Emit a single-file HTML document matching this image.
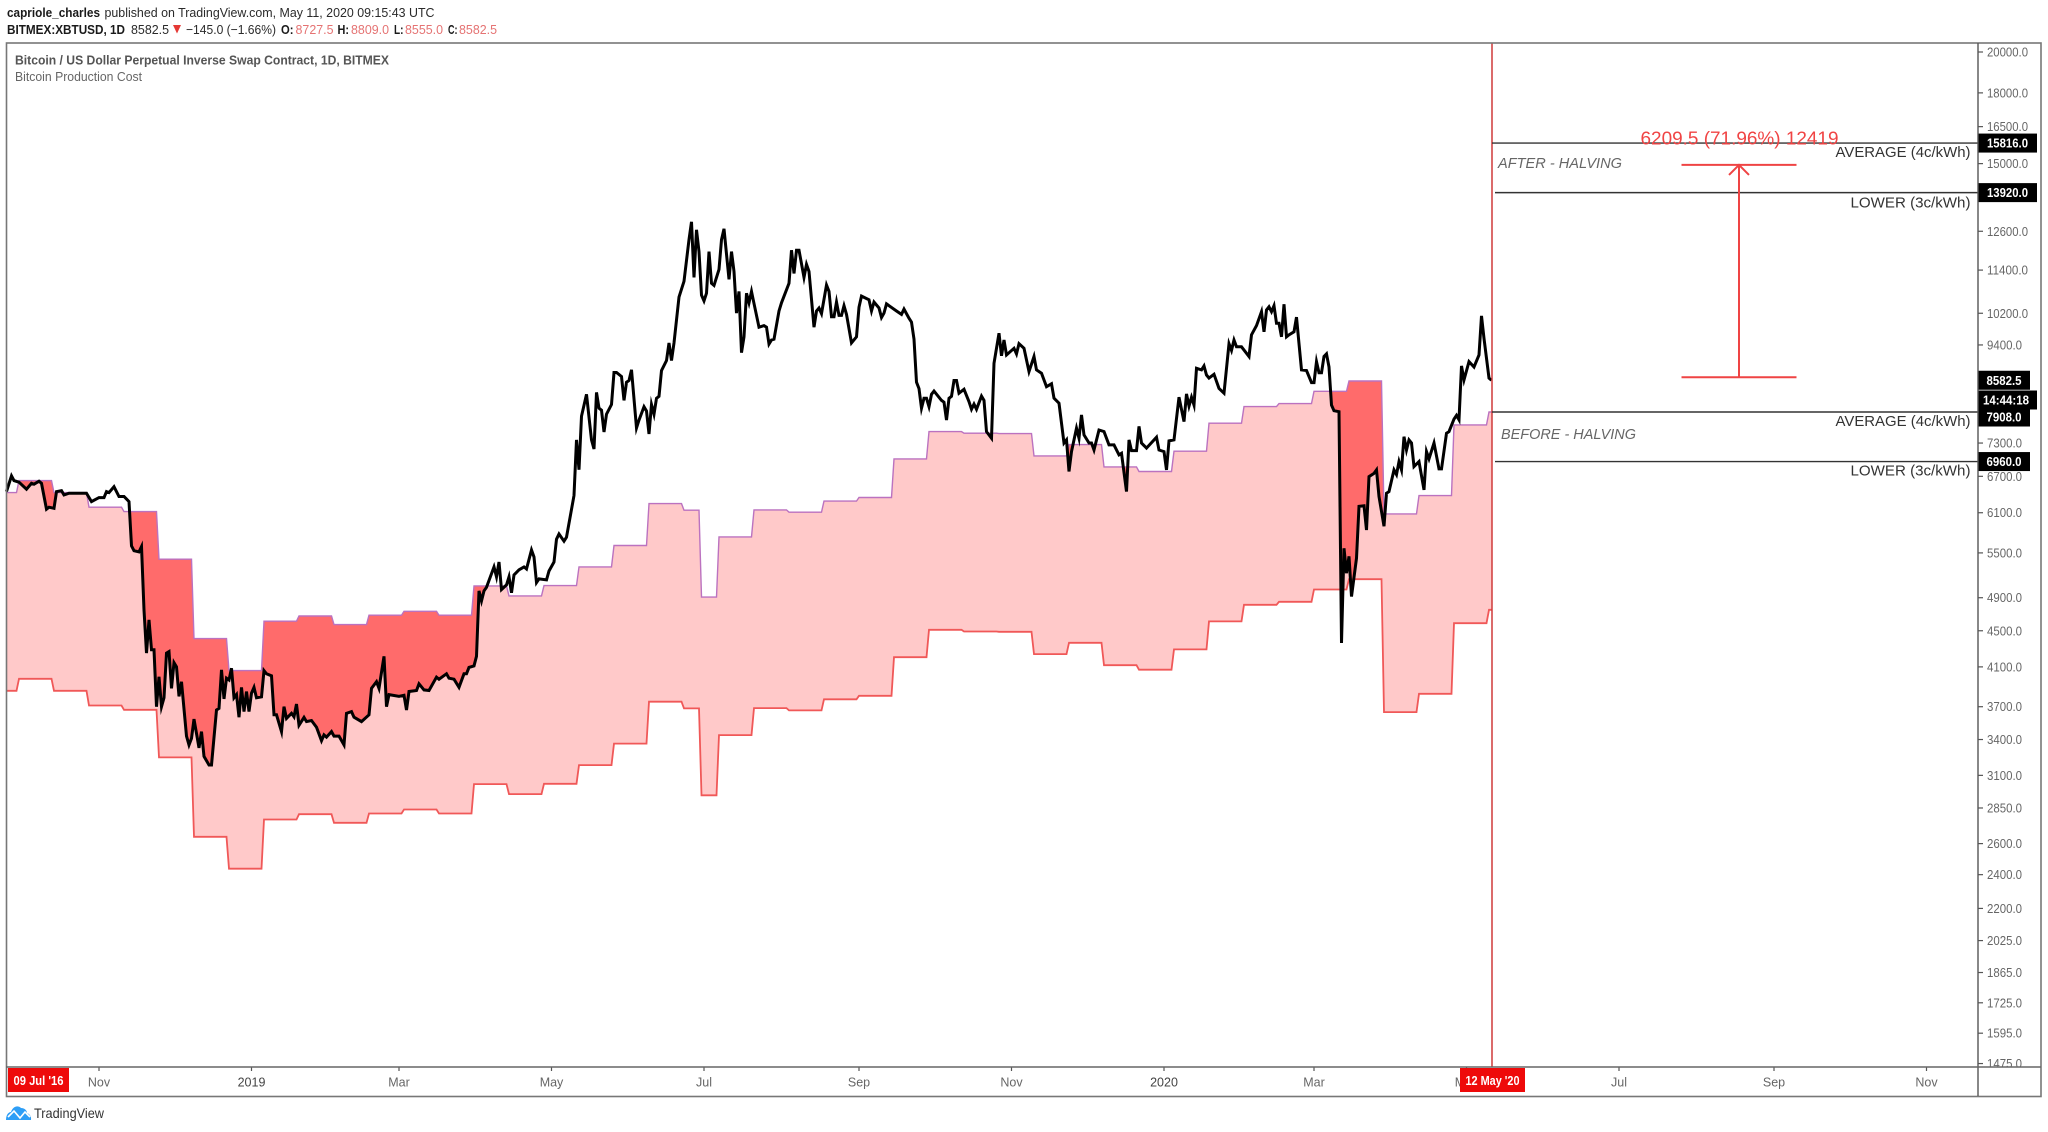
<!DOCTYPE html>
<html lang="en">
<head>
<meta charset="utf-8">
<title>Bitcoin Production Cost</title>
<style>
html,body{margin:0;padding:0;background:#fff;}
svg{display:block;font-family:"Liberation Sans",sans-serif;}
</style>
</head>
<body>
<svg id="chart" xmlns="http://www.w3.org/2000/svg" width="2048" height="1132" viewBox="0 0 2048 1132">
  <rect x="0" y="0" width="2048" height="1132" fill="#fff"/>

  <g>
    <text x="7" y="17" font-size="13" font-weight="700" fill="#1a1a1a" textLength="93" lengthAdjust="spacingAndGlyphs">capriole_charles</text>
    <text x="104.5" y="17" font-size="13" fill="#2a2a2a" textLength="330" lengthAdjust="spacingAndGlyphs">published on TradingView.com, May 11, 2020 09:15:43 UTC</text>
    <text x="7" y="34" font-size="13" font-weight="700" fill="#1a1a1a" textLength="118" lengthAdjust="spacingAndGlyphs">BITMEX:XBTUSD, 1D</text>
    <text x="131" y="34" font-size="13" fill="#2a2a2a" textLength="38" lengthAdjust="spacingAndGlyphs">8582.5</text>
    <polygon points="173,25 181,25 177,33.5" fill="#e53935"/>
    <text x="186" y="34" font-size="13" fill="#2a2a2a" textLength="90" lengthAdjust="spacingAndGlyphs">−145.0 (−1.66%)</text>
    <text x="281" y="34" font-size="13" font-weight="700" fill="#1a1a1a" textLength="12.5" lengthAdjust="spacingAndGlyphs">O:</text>
    <text x="295.5" y="34" font-size="13" fill="#e57373" textLength="38" lengthAdjust="spacingAndGlyphs">8727.5</text>
    <text x="337.5" y="34" font-size="13" font-weight="700" fill="#1a1a1a" textLength="11.5" lengthAdjust="spacingAndGlyphs">H:</text>
    <text x="351" y="34" font-size="13" fill="#e57373" textLength="38" lengthAdjust="spacingAndGlyphs">8809.0</text>
    <text x="394" y="34" font-size="13" font-weight="700" fill="#1a1a1a" textLength="9.5" lengthAdjust="spacingAndGlyphs">L:</text>
    <text x="405" y="34" font-size="13" fill="#e57373" textLength="38" lengthAdjust="spacingAndGlyphs">8555.0</text>
    <text x="448" y="34" font-size="13" font-weight="700" fill="#1a1a1a" textLength="9.5" lengthAdjust="spacingAndGlyphs">C:</text>
    <text x="459" y="34" font-size="13" fill="#e57373" textLength="38" lengthAdjust="spacingAndGlyphs">8582.5</text>
  </g>

  <g id="plot"></g>

  <rect x="7" y="1067" width="2034" height="30" fill="#fff"/>
  <g id="priceAxis"></g>
  <rect x="1979" y="1067" width="62" height="30" fill="#fff"/>
  <g id="timeAxis"></g>

  <rect x="6.5" y="43" width="2034.5" height="1053.5" fill="none" stroke="#777" stroke-width="1.6"/>
  <line x1="1978" y1="43" x2="1978" y2="1096" stroke="#555" stroke-width="1.4"/>
  <line x1="6" y1="1067" x2="2041" y2="1067" stroke="#666" stroke-width="1.4"/>

  <g id="dateBoxes">
    <rect x="8" y="1068" width="61" height="24" fill="#ee0a0a"/>
    <text x="38.5" y="1085" font-size="13" font-weight="700" fill="#fff" text-anchor="middle" textLength="50" lengthAdjust="spacingAndGlyphs">09 Jul '16</text>
    <rect x="1460" y="1068" width="65" height="24" fill="#ee0a0a"/>
    <text x="1492.5" y="1085" font-size="13" font-weight="700" fill="#fff" text-anchor="middle" textLength="54" lengthAdjust="spacingAndGlyphs">12 May '20</text>
  </g>

  <g>
    <text x="15" y="64.5" font-size="13" font-weight="700" fill="#555" textLength="374" lengthAdjust="spacingAndGlyphs">Bitcoin / US Dollar Perpetual Inverse Swap Contract, 1D, BITMEX</text>
    <text x="15" y="81" font-size="13" fill="#666" textLength="127" lengthAdjust="spacingAndGlyphs">Bitcoin Production Cost</text>
  </g>

  <g transform="translate(0,-4)">
    <path d="M6 1124 C6 1118 9 1116 11 1116 C13 1110 18 1109 21 1112 C25 1112 27 1115 27 1117 C30 1118 31.5 1121 31 1124 Z" fill="#2e9ef6"/>
    <path d="M8 1121 L14 1115 L20 1122 L25 1116 L30 1121" fill="none" stroke="#fff" stroke-width="1.6"/>
    <text x="34" y="1122" font-size="14" fill="#333" textLength="70" lengthAdjust="spacingAndGlyphs">TradingView</text>
  </g>

<script>
// Step-wise production cost (difficulty epochs): day offsets from 1 Nov 2018
const stepDays = [-37,-32,-18,-4,10,24,38,52,66,80,94,108,122,136,150,164,178,192,206,220,234,241,248,262,276,290,304,318,332,346,360,374,388,402,416,430,444,458,472,486,500,514,528,542,556];
const averageCost = [6425,6627,6425,6187,6118,5411,4410,4061,4612,4675,4572,4684,4732,4684,5052,4923,5055,5305,5606,6246,6140,4908,5732,6145,6108,6285,6344,7007,7518,7487,7480,7062,7270,6864,6783,7148,7683,8018,8081,8342,8567,6082,6375,7649,7908];
const lowerCost = [3855,3976,3855,3712,3671,3247,2646,2437,2767,2805,2743,2810,2839,2810,3031,2954,3033,3183,3364,3748,3684,2945,3439,3687,3665,3771,3806,4204,4511,4492,4488,4237,4362,4118,4070,4289,4610,4811,4849,5005,5140,3649,3825,4589,4750];

// BTC close line: day offsets and closes, same row layout in both arrays
const closeDays = [
-37,-35,-34,-32,-29,-27,-26,-24,-23,-21,
-20,-18,-17,-15,-14,-12,-8,-5,-3,0,
2,3,4,6,8,10,12,13,14,16,
17,18,19,20,21,22,23,24,25,26,
27,28,29,30,31,32,33,35,36,37,
38,40,41,42,44,45,47,48,49,50,
51,52,53,54,55,56,57,58,59,60,
61,62,63,65,66,67,69,70,71,73,
74,75,77,78,79,80,82,83,85,87,
89,90,91,93,94,96,98,99,101,102,
105,108,109,111,112,114,115,116,120,122,
123,124,127,128,130,132,135,136,139,140,
142,144,146,147,148,150,151,
152,153,154,155,158,159,160,161,163,164,
165,166,168,170,171,173,174,175,176,179,
180,182,183,184,186,187,189,190,191,192,
193,195,197,198,199,200,201,202,203,205,
206,207,209,210,211,212,213,215,216,218,
219,220,221,222,223,224,225,227,228,229,
230,232,234,236,237,238,239,240,241,242,
243,244,245,246,248,249,250,252,253,254,
255,256,257,258,259,260,261,262,264,266,
267,268,269,270,272,273,276,277,278,279,
280,282,283,284,286,287,288,289,291,292,
293,294,295,296,297,298,299,301,303,304,
305,308,309,310,312,313,314,315,319,321,
322,324,325,326,327,328,329,330,331,332,
333,334,337,338,339,340,341,342,343,
344,346,348,349,350,351,353,354,355,357,
358,360,361,362,363,366,367,368,370,372,
374,375,377,379,381,382,384,386,387,388,
389,391,392,393,394,396,397,398,400,402,
404,406,408,409,411,412,413,415,416,417,
419,423,424,426,427,428,430,432,434,435,
436,437,438,439,441,442,443,444,446,448,
450,452,453,454,455,457,460,461,463,465,
466,467,468,469,470,471,472,473,474,475,
476,478,479,480,481,483,485,486,487,488,
489,490,491,492,493,494,496,497,498,499,
500,501,503,504,506,507,508,510,511,512,
514,515,516,518,519,520,521,522,523,524,
525,526,528,530,531,532,534,536,537,539,
540,542,543,544,545,546,548,550,552,553,
554,556,557];
const closeValues = [
6441,6707,6627,6600,6481,6581,6565,6616,6581,6156,
6187,6170,6441,6457,6387,6415,6415,6415,6277,6343,
6343,6441,6425,6524,6360,6360,6277,5600,5532,5514,
5590,4748,4248,4628,4284,4284,3700,3998,3700,3786,
4248,4265,3879,4144,4100,3800,3946,3430,3352,3410,
3584,3327,3470,3255,3184,3184,3669,3684,4068,3775,
3982,3964,4086,3786,3817,3601,3889,3654,3848,3654,
3831,3889,3786,3795,4061,4028,4007,3624,3624,3470,
3700,3590,3638,3605,3725,3527,3599,3561,3571,3510,
3390,3441,3421,3470,3430,3430,3353,3638,3654,3601,
3561,3624,3880,3946,3879,4213,3700,3817,3800,3810,
3669,3848,3858,3925,3864,3858,3992,3972,4028,3982,
3972,3890,4028,4028,4095,4110,4213,
4987,4860,4987,5034,5305,5171,5372,5004,5065,5171,
4962,5197,5266,5305,5277,5542,5442,5095,5144,5130,
5250,5372,5697,5775,5668,5727,6152,6377,7359,6815,
7823,8277,7360,7188,8317,7985,7944,7510,7864,8063,
8755,8755,8665,8149,8540,8576,8817,7588,7744,8017,
7928,7472,8063,7864,8193,8234,8799,9028,9450,9028,
9450,10633,11076,12329,12912,11188,12648,11957,10690,10530,
10740,11957,11020,10960,11420,12329,12680,11130,11957,11360,
10205,10790,9213,9600,10740,10480,10790,10460,9840,9880,
9840,9420,9520,9540,10260,10480,11020,12000,11300,12000,
12000,11188,11570,11360,9840,10260,10340,10190,10970,10790,
10110,10110,10500,10145,10145,10400,10170,9450,9600,10360,
10660,10560,10260,10500,10340,10090,10205,10450,10260,10170,
10310,10070,9970,9540,8540,8400,7985,8193,8193,8017,
8277,8345,8149,8110,7744,8193,8234,8576,8576,
8300,8385,8120,7964,8070,7964,8240,8150,7518,7392,
8965,9690,9140,9520,9160,9320,9185,9430,9320,8775,
9125,8815,8740,8440,8505,8195,8090,7300,7360,6783,
7140,7585,7392,7850,7455,7300,7300,7170,7550,7518,
7265,7265,7080,7110,6441,7360,7160,7160,7620,7300,
7205,7410,7170,7140,6812,7340,7360,8215,7714,8285,
8030,8215,8050,8850,8815,8905,8700,8630,8715,8405,
8300,9430,9270,9520,9355,9355,9125,9650,9880,10240,
9725,10285,10370,10240,10400,9940,9940,9600,10440,9600,
9650,9725,10100,9430,8815,8800,8530,8530,9005,8750,
8750,9125,9185,8880,8050,7935,7915,4360,5565,5220,
5450,4915,5425,6200,6210,5835,6695,6750,6812,6360,
5890,6415,6441,6812,6730,6960,6812,7420,7170,7360,
7300,6870,6960,6470,7140,7010,7300,6830,6830,7485,
7518,7765,7840,7750,8905,8590,9005,8880,9160,10130,
9560,8630,8582];

// Axis labels
const priceTicks = [20000,18000,16500,15000,12600,11400,10200,9400,7300,6700,6100,5500,4900,4500,4100,3700,3400,3100,2850,2600,2400,2200,2025,1865,1725,1595,1475];
const timeLabels = ['Nov','2019','Mar','May','Jul','Sep','Nov','2020','Mar','May','Jul','Sep','Nov'];
const timeLabelDays = [0,61,120,181,242,304,365,426,486,547,608,670,731];

// Horizontal level annotations
const levelValues = [15816,13920,7908,6960];
const levelTags = ['15816.0','13920.0','7908.0','6960.0'];
const levelCaptions = ['AVERAGE (4c/kWh)','LOWER (3c/kWh)','AVERAGE (4c/kWh)','LOWER (3c/kWh)'];
const lastClose = [8582.5];
const measureRange = [8650,14950];
const measureDay = [656];
const cutoffDay = [557];

const NS = 'http://www.w3.org/2000/svg';
function x(day){ return 99 + 2.5 * day; }
function y(price){ return 52 + 388 * Math.log(20000 / price); }
function mk(parent, tag, attrs, text){
  const el = document.createElementNS(NS, tag);
  for (const k in attrs) el.setAttribute(k, attrs[k]);
  if (text !== undefined) el.textContent = text;
  parent.appendChild(el);
  return el;
}
function stepPoints(values){
  const pts = [];
  for (let i = 0; i < values.length; i++){
    const next = i + 1 < stepDays.length ? stepDays[i + 1] - 1 : cutoffDay[0];
    pts.push([x(stepDays[i]), y(values[i])]);
    pts.push([x(next), y(values[i])]);
  }
  return pts;
}
function str(pts){ return pts.map(p => p[0].toFixed(1) + ',' + p[1].toFixed(1)).join(' '); }

const plot = document.getElementById('plot');
const upperPts = stepPoints(averageCost);
const lowerPts = stepPoints(lowerCost);
const bandPts = upperPts.concat(lowerPts.slice().reverse());
const closePts = [];
const closeCount = Math.min(closeDays.length, closeValues.length);
for (let i = 0; i < closeCount; i++) closePts.push([x(closeDays[i]), y(closeValues[i])]);

const band = mk(plot, 'polygon', {points: str(bandPts), fill: '#ffc9c9'});



const defs = mk(plot, 'defs', {});
const clip = mk(defs, 'clipPath', {id: 'aboveClose'});
const abovePts = closePts.concat([[closePts[closePts.length - 1][0], 0], [closePts[0][0], 0]]);
mk(clip, 'polygon', {points: str(abovePts)});

const dark = mk(plot, 'polygon', {points: str(bandPts), fill: '#ff6b6b', 'clip-path': 'url(#aboveClose)'});



const upperLine = mk(plot, 'polyline', {points: str(upperPts), fill: 'none', stroke: '#bb72c0', 'stroke-width': '1.4'});



const lowerLine = mk(plot, 'polyline', {points: str(lowerPts), fill: 'none', stroke: '#f05858', 'stroke-width': '1.8'});



const closeLine = mk(plot, 'polyline', {points: str(closePts), fill: 'none', stroke: '#000', 'stroke-width': '3', 'stroke-linejoin': 'miter', 'stroke-miterlimit': '6'});



const cutoff = mk(plot, 'line', {x1: 1492, y1: 43, x2: 1492, y2: 1068, stroke: '#cf3a3a', 'stroke-width': '1.5'});



// Level lines + captions
const levelStart = [1492,1495,1492,1495];
const captionOffset = [14,15,14,14];
levelValues.forEach(function(v, i){
  const ly = y(v);
  const l = mk(plot, 'line', {x1: levelStart[i], y1: ly, x2: 1978, y2: ly, stroke: '#333', 'stroke-width': '1.4'});
  
  
  const t = mk(plot, 'text', {x: 1970.5, y: ly + captionOffset[i], 'font-size': 15, fill: '#333', 'text-anchor': 'end', textLength: levelCaptions[i].indexOf('AVERAGE') === 0 ? 135 : 120, lengthAdjust: 'spacingAndGlyphs'}, levelCaptions[i]);
  
  
});

const afterText = mk(plot, 'text', {x: 1498, y: 168, 'font-size': 14.5, 'font-style': 'italic', fill: '#666', textLength: 124, lengthAdjust: 'spacingAndGlyphs'}, 'AFTER - HALVING');


const beforeText = mk(plot, 'text', {x: 1501, y: 439, 'font-size': 14.5, 'font-style': 'italic', fill: '#666', textLength: 135, lengthAdjust: 'spacingAndGlyphs'}, 'BEFORE - HALVING');



// Measure annotation
const mx = x(measureDay[0]);
const my0 = y(measureRange[0]);
const my1 = y(measureRange[1]);
const measure = mk(plot, 'g', {fill: 'none', stroke: '#ef4444', 'stroke-width': '2'});


mk(measure, 'line', {x1: mx - 57.5, y1: my1, x2: mx + 57.5, y2: my1});
mk(measure, 'line', {x1: mx - 57.5, y1: my0, x2: mx + 57.5, y2: my0});
mk(measure, 'line', {x1: mx, y1: my0, x2: mx, y2: my1});
mk(measure, 'polyline', {points: (mx - 10) + ',' + (my1 + 10) + ' ' + mx + ',' + my1 + ' ' + (mx + 10) + ',' + (my1 + 10)});
const measureText = mk(plot, 'text', {x: 1640.5, y: 144.5, 'font-size': 18.5, fill: '#f04444', textLength: 198, lengthAdjust: 'spacingAndGlyphs'}, '6209.5 (71.96%) 12419');



// Price axis
const priceAxis = document.getElementById('priceAxis');
priceTicks.forEach(function(p){
  const py = y(p);
  const tick = mk(priceAxis, 'line', {x1: 1978, y1: py, x2: 1983, y2: py, stroke: '#555', 'stroke-width': '1.2'});
  
  
  const label = p.toFixed(1);
  const t = mk(priceAxis, 'text', {x: 1987, y: py + 4.5, 'font-size': 12.5, fill: '#666', textLength: label.length === 7 ? 41 : 35, lengthAdjust: 'spacingAndGlyphs'}, label);
  
  
});

// Price tags
function priceTag(cy, width, text, textX, textW, name){
  const r = mk(priceAxis, 'rect', {x: 1978, y: cy - 9.5, width: width, height: 19, fill: '#000'});
  
  
  const t = mk(priceAxis, 'text', {x: textX, y: cy + 4.5, 'font-size': 12.5, 'font-weight': 700, fill: '#fff', textLength: textW, lengthAdjust: 'spacingAndGlyphs'}, text);
  
  
}
priceTag(y(levelValues[0]), 59, levelTags[0], 1987, 41, 'level-15816-tag');
priceTag(y(levelValues[1]), 59, levelTags[1], 1987, 41, 'level-13920-tag');
priceTag(y(levelValues[2]) + 5, 52, levelTags[2], 1986.5, 35, 'level-7908-tag');
priceTag(y(levelValues[3]), 52, levelTags[3], 1986.5, 35, 'level-6960-tag');
priceTag(y(lastClose[0]), 52, lastClose[0].toFixed(1), 1986.5, 35, 'last-price-tag');
priceTag(400, 59, '14:44:18', 1983, 46, 'countdown-tag');

// Time axis
const timeAxis = document.getElementById('timeAxis');
timeLabels.forEach(function(lbl, i){
  const tx = x(timeLabelDays[i]);
  const tick = mk(timeAxis, 'line', {x1: tx, y1: 1067, x2: tx, y2: 1071, stroke: '#555', 'stroke-width': '1.2'});
  
  
  const t = mk(timeAxis, 'text', {x: tx, y: 1086.5, 'font-size': 12.5, fill: lbl.length === 4 ? '#444' : '#666', 'text-anchor': 'middle'}, lbl);
  
  
});
</script>
</svg>
</body>
</html>
